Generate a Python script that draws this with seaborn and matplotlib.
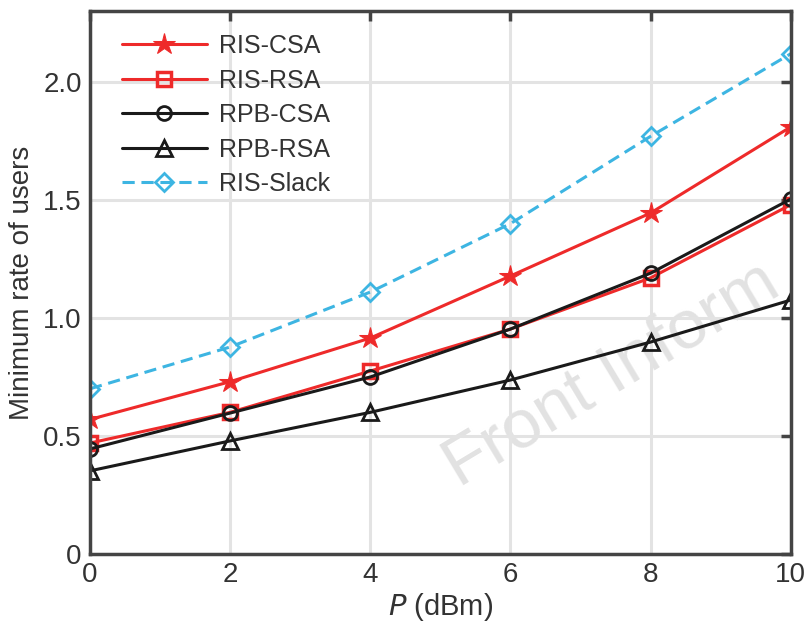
import numpy as np
import pandas as pd
import matplotlib
matplotlib.use("Agg")
import matplotlib.pyplot as plt
import seaborn as sns

# data
power_dbm = [0, 2, 4, 6, 8, 10]
ris_csa = [0.57, 0.73, 0.915, 1.178, 1.445, 1.81]
ris_rsa = [0.47, 0.60, 0.775, 0.953, 1.17, 1.48]
rpb_csa = [0.445, 0.597, 0.75, 0.953, 1.19, 1.504]
rpb_rsa = [0.352, 0.479, 0.60, 0.737, 0.898, 1.076]
ris_slack = [0.70, 0.877, 1.11, 1.40, 1.77, 2.12]
x_ticks = [0, 2, 4, 6, 8, 10]
y_ticks = [0, 0.5, 1.0, 1.5, 2.0]
y_tick_labels = ["0", "0.5", "1.0", "1.5", "2.0"]

sns.set_theme(style="white")
plt.rcParams["font.family"] = ["Liberation Sans", "DejaVu Sans"]

red = "#ee2a2a"
black = "#1a1a1a"
cyan = "#3db5e2"

series = [
    ("RIS-CSA", ris_csa, dict(color=red, marker="*", markersize=16, mfc=red, mec=red, linestyle="-")),
    ("RIS-RSA", ris_rsa, dict(color=red, marker="s", markersize=10, mfc="none", mec=red, mew=2.5, linestyle="-")),
    ("RPB-CSA", rpb_csa, dict(color=black, marker="o", markersize=10, mfc="none", mec=black, mew=2, linestyle="-")),
    ("RPB-RSA", rpb_rsa, dict(color=black, marker="^", markersize=11, mfc="none", mec=black, mew=2, linestyle="-")),
    ("RIS-Slack", ris_slack, dict(color=cyan, marker="D", markersize=9, mfc="none", mec=cyan, mew=2, linestyle=(0, (4, 2.2)))),
]

fig = plt.figure(figsize=(8.11, 6.28), dpi=100)
ax = fig.add_axes([0.111, 0.118, 0.864, 0.864])

ax.text(0.49, 0.10, "Front Inform", transform=ax.transAxes, fontsize=50,
        color="#e2e2e2", rotation=31, ha="left", va="bottom", zorder=0)

for name, vals, kw in series:
    df = pd.DataFrame({"P": power_dbm, "rate": vals})
    sns.lineplot(data=df, x="P", y="rate", ax=ax, label=name, linewidth=2.2, **kw)

ax.set_xlim(0, 10)
ax.set_ylim(0, 2.3)
ax.set_xticks(x_ticks)
ax.set_yticks(y_ticks)
ax.set_yticklabels(y_tick_labels)
ax.grid(True, color="#e3e3e3", linewidth=2.2)
ax.set_axisbelow(True)

for sp in ax.spines.values():
    sp.set_color("#444444")
    sp.set_linewidth(2.5)
ax.tick_params(axis="both", direction="in", length=7, width=2.5, color="#444444",
               labelsize=20, labelcolor="#333333", top=True, right=True, pad=6)

ax.set_xlabel("$\\it{P}$ (dBm)", fontsize=21, color="#333333", labelpad=2)
ax.set_ylabel("Minimum rate of users", fontsize=20, color="#333333", labelpad=6)

leg = ax.legend(loc="upper left", frameon=False, fontsize=18, handlelength=3.4,
                handletextpad=0.5, borderaxespad=0.3, labelspacing=0.42,
                bbox_to_anchor=(0.02, 0.99))
for t in leg.get_texts():
    t.set_color("#333333")

fig.savefig("out.png", dpi=100)
